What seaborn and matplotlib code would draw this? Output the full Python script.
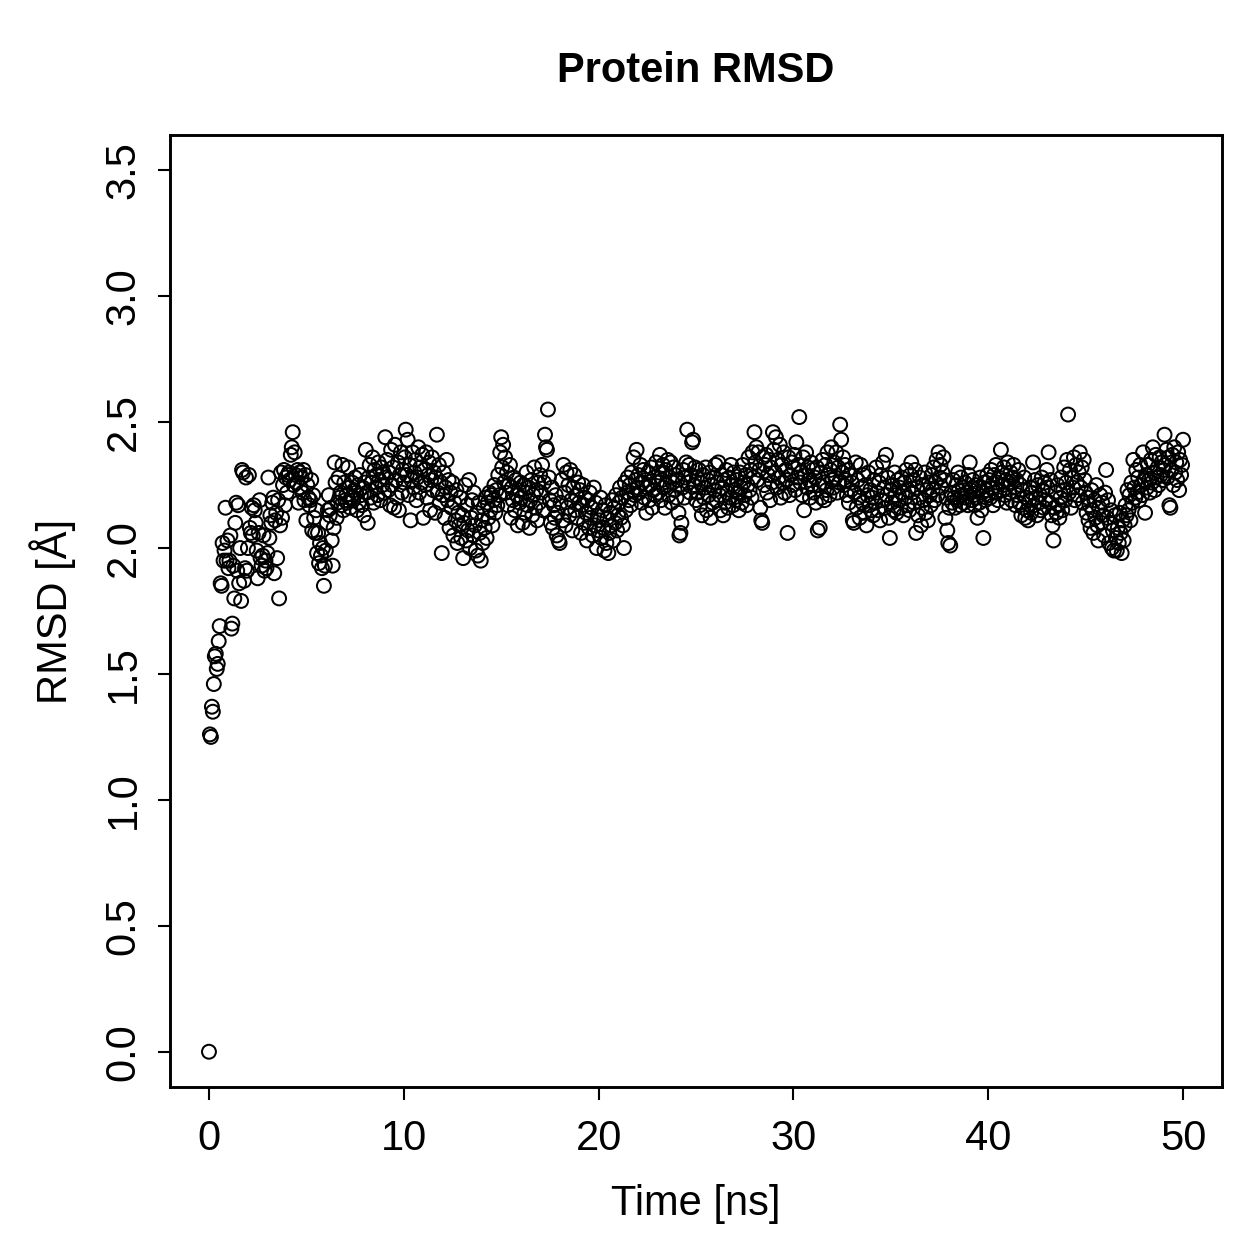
import numpy as np
import pandas as pd
import matplotlib
matplotlib.use("Agg")
import matplotlib.pyplot as plt
import seaborn as sns

# RMSD values, 0.05 ns apart (0.00 .. 50.00 ns)
rmsd_start = [0.00]
rmsd_00 = [1.26,1.25,1.37,1.35,1.46,1.57,1.58,1.52,1.54,1.63,1.69,1.86,1.85,2.02,1.95,1.99,2.16,1.95,2.03,1.92]
rmsd_01 = [1.95,2.05,1.68,1.70,1.93,1.80,2.10,2.18,1.91,2.17,1.86,2.00,1.79,2.31,2.30,1.87,1.92,2.28,1.91,2.00]
rmsd_02 = [2.29,2.08,2.06,2.16,2.05,2.17,2.15,2.10,1.99,1.88,2.06,2.19,1.96,1.93,1.97,2.05,1.91,1.95,1.92,1.98]
rmsd_03 = [2.28,2.04,2.13,2.10,2.18,2.20,1.90,2.11,2.14,1.96,2.19,1.80,2.09,2.30,2.12,2.25,2.31,2.17,2.28,2.22]
rmsd_04 = [2.29,2.30,2.27,2.37,2.40,2.46,2.25,2.38,2.29,2.26,2.31,2.18,2.30,2.24,2.28,2.22,2.31,2.19,2.29,2.11]
rmsd_05 = [2.25,2.20,2.17,2.19,2.27,2.07,2.21,2.12,2.06,2.15,1.98,2.06,1.94,2.02,1.97,1.92,2.00,1.85,1.93,1.99]
rmsd_06 = [2.10,2.15,2.21,2.13,2.16,2.03,1.93,2.08,2.34,2.26,2.12,2.18,2.28,2.20,2.22,2.17,2.33,2.15,2.26,2.19]
rmsd_07 = [2.21,2.18,2.32,2.24,2.16,2.20,2.26,2.19,2.23,2.28,2.22,2.15,2.25,2.18,2.29,2.21,2.17,2.24,2.13,2.26]
rmsd_08 = [2.39,2.22,2.10,2.28,2.33,2.20,2.26,2.36,2.18,2.31,2.24,2.29,2.21,2.34,2.27,2.19,2.32,2.25,2.30,2.22]
rmsd_09 = [2.44,2.28,2.35,2.23,2.30,2.17,2.39,2.25,2.32,2.16,2.41,2.27,2.20,2.34,2.15,2.29,2.38,2.22,2.31,2.26]
rmsd_10 = [2.36,2.47,2.29,2.43,2.21,2.33,2.11,2.27,2.38,2.24,2.30,2.35,2.19,2.28,2.40,2.22,2.32,2.26,2.37,2.12]
rmsd_11 = [2.31,2.25,2.38,2.20,2.29,2.34,2.15,2.27,2.36,2.23,2.30,2.14,2.28,2.45,2.22,2.33,2.18,2.26,1.98,2.21]
rmsd_12 = [2.30,2.12,2.24,2.35,2.19,2.27,2.08,2.22,2.16,2.26,2.05,2.18,2.11,2.23,2.02,2.14,2.09,2.20,2.04,2.13]
rmsd_13 = [1.96,2.10,2.25,2.03,2.17,2.07,2.27,2.00,2.12,2.19,2.05,2.22,2.09,1.99,2.14,1.97,2.18,2.06,1.95,2.11]
rmsd_14 = [2.02,2.16,2.08,2.20,2.04,2.18,2.12,2.22,2.15,2.21,2.09,2.19,2.25,2.14,2.23,2.17,2.29,2.21,2.38,2.44]
rmsd_15 = [2.32,2.41,2.26,2.36,2.22,2.30,2.17,2.25,2.33,2.12,2.24,2.19,2.28,2.15,2.27,2.21,2.09,2.23,2.18,2.26]
rmsd_16 = [2.20,2.10,2.25,2.14,2.22,2.30,2.17,2.24,2.08,2.19,2.27,2.13,2.21,2.32,2.16,2.23,2.11,2.26,2.18,2.29]
rmsd_17 = [2.22,2.33,2.15,2.26,2.45,2.40,2.39,2.55,2.28,2.19,2.10,2.24,2.08,2.17,2.12,2.21,2.05,2.14,2.03,2.02]
rmsd_18 = [2.18,2.27,2.11,2.33,2.22,2.09,2.30,2.16,2.25,2.13,2.31,2.19,2.07,2.24,2.29,2.15,2.21,2.12,2.26,2.18]
rmsd_19 = [2.23,2.06,2.17,2.25,2.10,2.20,2.14,2.03,2.19,2.08,2.22,2.12,2.16,2.05,2.24,2.09,2.18,2.00,2.13,2.07]
rmsd_20 = [2.11,2.20,2.04,2.15,2.08,1.99,2.17,2.02,2.12,1.98,2.06,2.14,2.09,2.19,2.03,2.16,2.10,2.21,2.07,2.13]
rmsd_21 = [2.18,2.24,2.12,2.20,2.09,2.00,2.26,2.15,2.22,2.28,2.19,2.25,2.17,2.30,2.23,2.36,2.21,2.27,2.39,2.24]
rmsd_22 = [2.29,2.22,2.33,2.18,2.26,2.31,2.20,2.27,2.14,2.24,2.30,2.19,2.25,2.32,2.16,2.23,2.28,2.21,2.34,2.26]
rmsd_23 = [2.22,2.30,2.37,2.19,2.27,2.33,2.24,2.16,2.31,2.25,2.35,2.21,2.28,2.34,2.18,2.26,2.32,2.23,2.29,2.20]
rmsd_24 = [2.27,2.14,2.05,2.06,2.10,2.24,2.31,2.20,2.28,2.34,2.47,2.26,2.33,2.22,2.29,2.42,2.43,2.25,2.32,2.19]
rmsd_25 = [2.28,2.22,2.31,2.17,2.26,2.13,2.29,2.20,2.24,2.32,2.15,2.27,2.21,2.30,2.12,2.25,2.18,2.28,2.23,2.33]
rmsd_26 = [2.19,2.26,2.34,2.21,2.15,2.29,2.24,2.13,2.27,2.18,2.31,2.22,2.16,2.28,2.20,2.33,2.25,2.17,2.30,2.23]
rmsd_27 = [2.19,2.27,2.22,2.15,2.30,2.24,2.18,2.33,2.26,2.21,2.29,2.17,2.25,2.36,2.23,2.31,2.20,2.38,2.28,2.46]
rmsd_28 = [2.34,2.40,2.27,2.38,2.31,2.16,2.11,2.10,2.36,2.25,2.33,2.37,2.22,2.29,2.35,2.19,2.32,2.26,2.46,2.39]
rmsd_29 = [2.30,2.44,2.24,2.35,2.28,2.41,2.20,2.33,2.26,2.38,2.22,2.31,2.27,2.06,2.36,2.21,2.29,2.34,2.25,2.32]
rmsd_30 = [2.37,2.23,2.42,2.28,2.33,2.52,2.26,2.30,2.21,2.36,2.15,2.29,2.38,2.24,2.32,2.27,2.20,2.34,2.25,2.31]
rmsd_31 = [2.22,2.28,2.18,2.32,2.07,2.25,2.08,2.30,2.20,2.35,2.26,2.19,2.33,2.23,2.38,2.29,2.21,2.31,2.40,2.27]
rmsd_32 = [2.24,2.34,2.28,2.38,2.22,2.32,2.26,2.49,2.43,2.30,2.36,2.25,2.33,2.27,2.21,2.31,2.18,2.29,2.23,2.26]
rmsd_33 = [2.11,2.10,2.22,2.34,2.16,2.27,2.20,2.12,2.33,2.24,2.18,2.29,2.14,2.25,2.09,2.21,2.30,2.17,2.23,2.15]
rmsd_34 = [2.20,2.13,2.27,2.18,2.32,2.22,2.15,2.26,2.11,2.29,2.19,2.34,2.24,2.16,2.37,2.21,2.28,2.12,2.04,2.23]
rmsd_35 = [2.18,2.25,2.15,2.30,2.21,2.14,2.27,2.19,2.24,2.16,2.28,2.22,2.13,2.26,2.20,2.31,2.17,2.23,2.15,2.29]
rmsd_36 = [2.34,2.22,2.27,2.18,2.31,2.06,2.24,2.13,2.20,2.28,2.09,2.16,2.25,2.19,2.30,2.14,2.23,2.11,2.26,2.21]
rmsd_37 = [2.17,2.29,2.23,2.32,2.19,2.26,2.35,2.21,2.38,2.28,2.33,2.24,2.30,2.36,2.27,2.12,2.20,2.07,2.02,2.16]
rmsd_38 = [2.01,2.22,2.18,2.27,2.20,2.16,2.25,2.19,2.30,2.23,2.17,2.28,2.21,2.24,2.18,2.26,2.20,2.22,2.17,2.29]
rmsd_39 = [2.34,2.23,2.19,2.27,2.21,2.17,2.25,2.20,2.12,2.24,2.18,2.28,2.15,2.22,2.04,2.26,2.19,2.23,2.29,2.21]
rmsd_40 = [2.27,2.20,2.31,2.24,2.17,2.29,2.22,2.33,2.26,2.19,2.28,2.23,2.39,2.30,2.25,2.32,2.21,2.27,2.18,2.34]
rmsd_41 = [2.26,2.22,2.30,2.19,2.28,2.33,2.24,2.17,2.27,2.21,2.31,2.18,2.25,2.13,2.23,2.16,2.28,2.12,2.20,2.15]
rmsd_42 = [2.11,2.19,2.24,2.14,2.22,2.34,2.17,2.27,2.20,2.13,2.25,2.18,2.21,2.15,2.28,2.23,2.16,2.26,2.19,2.31]
rmsd_43 = [2.24,2.38,2.18,2.27,2.13,2.09,2.03,2.16,2.22,2.14,2.25,2.17,2.12,2.20,2.28,2.15,2.23,2.32,2.19,2.26]
rmsd_44 = [2.35,2.53,2.22,2.31,2.16,2.28,2.24,2.36,2.19,2.33,2.26,2.21,2.30,2.38,2.24,2.32,2.18,2.35,2.27,2.22]
rmsd_45 = [2.14,2.20,2.11,2.17,2.08,2.23,2.15,2.06,2.19,2.12,2.25,2.09,2.03,2.16,2.21,2.10,2.18,2.13,2.05,2.22]
rmsd_46 = [2.31,2.12,2.19,2.02,2.10,2.15,2.00,2.07,1.99,2.13,2.04,1.99,2.08,2.02,2.14,2.06,1.98,2.11,2.03,2.09]
rmsd_47 = [2.17,2.13,2.23,2.15,2.21,2.11,2.26,2.18,2.35,2.24,2.20,2.31,2.22,2.28,2.19,2.33,2.25,2.21,2.38,2.27]
rmsd_48 = [2.14,2.29,2.24,2.33,2.27,2.22,2.35,2.26,2.40,2.30,2.23,2.37,2.28,2.32,2.25,2.36,2.29,2.34,2.27,2.31]
rmsd_49 = [2.45,2.33,2.39,2.28,2.36,2.17,2.16,2.31,2.37,2.25,2.40,2.30,2.34,2.27,2.38,2.23,2.35,2.29,2.33,2.43]

time_step_ns = 0.05
x_ticks = [0, 10, 20, 30, 40, 50]
y_ticks = [0.0, 0.5, 1.0, 1.5, 2.0, 2.5, 3.0, 3.5]
y_tick_labels = ["0.0", "0.5", "1.0", "1.5", "2.0", "2.5", "3.0", "3.5"]
title = "Protein RMSD"
x_label = "Time [ns]"
y_label = "RMSD [Å]"

blocks = [rmsd_00, rmsd_01, rmsd_02, rmsd_03, rmsd_04, rmsd_05, rmsd_06, rmsd_07, rmsd_08, rmsd_09,
          rmsd_10, rmsd_11, rmsd_12, rmsd_13, rmsd_14, rmsd_15, rmsd_16, rmsd_17, rmsd_18, rmsd_19,
          rmsd_20, rmsd_21, rmsd_22, rmsd_23, rmsd_24, rmsd_25, rmsd_26, rmsd_27, rmsd_28, rmsd_29,
          rmsd_30, rmsd_31, rmsd_32, rmsd_33, rmsd_34, rmsd_35, rmsd_36, rmsd_37, rmsd_38, rmsd_39,
          rmsd_40, rmsd_41, rmsd_42, rmsd_43, rmsd_44, rmsd_45, rmsd_46, rmsd_47, rmsd_48, rmsd_49]
rmsd = list(rmsd_start)
for b in blocks:
    rmsd.extend(b)
time = np.arange(len(rmsd)) * time_step_ns
df = pd.DataFrame({"time": time, "rmsd": rmsd})

sns.set_style("ticks")
plt.rcParams['font.family'] = ['Liberation Sans', 'DejaVu Sans']
plt.rcParams['text.color'] = 'black'
plt.rcParams['axes.labelcolor'] = 'black'

fig = plt.figure(figsize=(12.59, 12.59), dpi=100)
ax = fig.add_axes([170/1259, 1 - 1087/1259, (1222-170)/1259, (1087-135)/1259])

sns.scatterplot(data=df, x="time", y="rmsd", ax=ax, marker="o", s=100,
                facecolors="none", edgecolors="black", linewidth=1.45, legend=False)

ax.set_xlim(-2, 52)
ax.set_ylim(-0.14, 3.64)
ax.set_xticks(x_ticks)
ax.set_yticks(y_ticks)
ax.set_yticklabels(y_tick_labels, rotation=90, va="center")
ax.tick_params(axis="x", which="major", pad=14)
ax.tick_params(axis="y", which="major", pad=10)
ax.tick_params(axis="both", which="major", length=9, width=1.5, labelsize=30,
               colors="black", labelcolor="black")
for s in ax.spines.values():
    s.set_linewidth(2.1)
    s.set_color("black")
    s.set_visible(True)

ax.set_xlabel(x_label, fontsize=30, labelpad=18, color="black")
ax.set_ylabel(y_label, fontsize=30, labelpad=20, color="black")
fig.text(696/1259, 1 - 71/1259, title, ha="center", va="center", fontsize=30,
         fontweight="bold", color="black")

fig.savefig("out.png", dpi=100)
